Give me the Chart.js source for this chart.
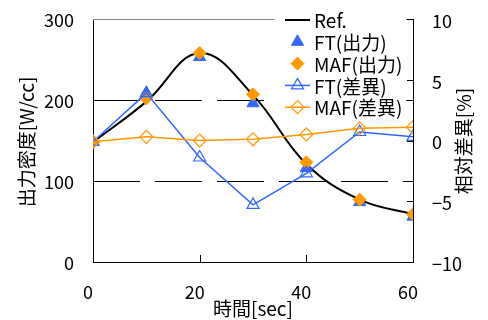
<!DOCTYPE html>
<html><head><meta charset="utf-8">
<script src="https://cdn.jsdelivr.net/npm/chart.js@4/dist/chart.umd.min.js"></script>
<style>html,body{margin:0;padding:0;background:#fff}#wrap{width:488px;height:320px}</style>
</head><body><div id="wrap"><canvas id="c" width="488" height="320"></canvas></div>
<script>
// ---- data ----
const times = [0, 10, 20, 30, 40, 50, 60];
const refValues = [148, 198, 258, 206, 121, 77, 59];
const ftPower = [148, 208, 253, 196, 116, 74, 56];
const mafPower = [148, 202, 258, 207, 123, 77, 59];
const ftDiff = [-0.1, 3.9, -1.4, -5.3, -2.7, 0.7, 0.3];
const mafDiff = [-0.1, 0.3, 0.0, 0.1, 0.5, 1.0, 1.1];
const xTicks = [0, 20, 40, 60];
const leftTicks = [0, 100, 200, 300];
const rightTicks = [-10, -5, 0, 5, 10];
const seriesLabels = ['Ref.', 'FT(出力)', 'MAF(出力)', 'FT(差異)', 'MAF(差異)'];
const xTitle = '時間[sec]';
const leftTitle = '出力密度[W/cc]';
const rightTitle = '相対差異[%]';

// ---- style ----
const BLUE = '#3366FF';
const ORANGE = '#FF9900';
const FONT = "'Noto Sans CJK JP', sans-serif";
const TITLE_FONT = "19px 'Noto Sans CJK JP', sans-serif";
const LEG = {x: 275, y: 0, w: 131, h: 118, lineX1: 285, lineX2: 310, symX: 297.5, textX: 314, rowY0: 20, rowStep: 21.8};

const pts = (ys) => times.map((t, i) => ({x: t, y: ys[i]}));
const noPad = (s) => { s.paddingTop = 0; s.paddingBottom = 0; s.paddingLeft = 0; s.paddingRight = 0; };

const decor = {
  id: 'decor',
  beforeDatasetsDraw(chart) {
    const {ctx, chartArea: a, scales} = chart;
    ctx.save();
    ctx.strokeStyle = '#000'; ctx.lineWidth = 1; ctx.setLineDash([47, 15]);
    leftTicks.filter(v => v > 0 && v < 300).forEach(v => {
      const y = Math.round(scales.y.getPixelForValue(v)) + 0.5;
      ctx.beginPath(); ctx.moveTo(a.left, y); ctx.lineTo(a.right, y); ctx.stroke();
    });
    ctx.setLineDash([]);
    ctx.strokeStyle = '#8a8a8a';
    ctx.beginPath(); ctx.moveTo(a.left, a.top + 0.5); ctx.lineTo(a.right, a.top + 0.5); ctx.stroke();
    ctx.strokeStyle = '#000';
    leftTicks.filter(v => v > 0 && v < 300).forEach(v => {
      const y = Math.round(scales.y.getPixelForValue(v)) + 0.5;
      ctx.beginPath(); ctx.moveTo(a.left, y); ctx.lineTo(a.left + 7, y); ctx.stroke();
    });
    xTicks.forEach(v => {
      const x = Math.round(scales.x.getPixelForValue(v)) + 0.5;
      ctx.beginPath(); ctx.moveTo(x, a.bottom); ctx.lineTo(x, a.bottom - 7); ctx.stroke();
    });
    rightTicks.forEach(v => {
      const y = Math.round(scales.y2.getPixelForValue(v)) + 0.5;
      ctx.beginPath(); ctx.moveTo(a.right, y); ctx.lineTo(a.right - 6, y); ctx.stroke();
    });
    ctx.restore();
  },
  afterDraw(chart) {
    const {ctx} = chart;
    ctx.save();
    ctx.fillStyle = '#000'; ctx.font = TITLE_FONT; ctx.textAlign = 'center'; ctx.textBaseline = 'middle';
    ctx.fillText(xTitle, 253, 309);
    ctx.save(); ctx.translate(27, 142); ctx.rotate(-Math.PI / 2); ctx.fillText(leftTitle, 0, 0); ctx.restore();
    ctx.save(); ctx.translate(464, 141); ctx.rotate(-Math.PI / 2); ctx.fillText(rightTitle, 0, 0); ctx.restore();
    ctx.fillStyle = '#fff';
    ctx.fillRect(LEG.x, LEG.y, LEG.w, LEG.h);
    chart.data.datasets.forEach((ds, i) => {
      const y = LEG.rowY0 + i * LEG.rowStep;
      if (ds.showLine !== false) {
        ctx.strokeStyle = ds.borderColor; ctx.lineWidth = ds.borderWidth;
        ctx.beginPath(); ctx.moveTo(LEG.lineX1, y); ctx.lineTo(LEG.lineX2, y); ctx.stroke();
      }
      if (ds.pointRadius > 0) {
        ctx.fillStyle = ds.pointBackgroundColor || ds.backgroundColor;
        ctx.strokeStyle = ds.pointBorderColor || ds.borderColor;
        ctx.lineWidth = ds.pointBorderWidth || 1;
        Chart.helpers.drawPoint(ctx, {pointStyle: ds.pointStyle, radius: ds.pointRadius, borderWidth: ds.pointBorderWidth || 1, rotation: 0}, LEG.symX, y);
      }
      ctx.fillStyle = '#000'; ctx.font = TITLE_FONT; ctx.textAlign = 'left'; ctx.textBaseline = 'middle';
      ctx.fillText(ds.label, LEG.textX, y + 1);
    });
    ctx.restore();
  }
};

const tickFont = {family: FONT, size: 18};
new Chart(document.getElementById('c'), {
  type: 'line',
  data: {datasets: [
    {label: seriesLabels[0], data: pts(refValues), yAxisID: 'y', borderColor: '#000', borderWidth: 2, pointRadius: 0, tension: 0.4, order: 5},
    {label: seriesLabels[1], data: pts(ftPower), yAxisID: 'y', showLine: false, pointStyle: 'triangle', pointRadius: 7, backgroundColor: BLUE, borderColor: BLUE, pointBorderWidth: 1, order: 4},
    {label: seriesLabels[2], data: pts(mafPower), yAxisID: 'y', showLine: false, pointStyle: 'rectRot', pointRadius: 6.5, backgroundColor: ORANGE, borderColor: ORANGE, pointBorderWidth: 1, order: 3},
    {label: seriesLabels[3], data: pts(ftDiff), yAxisID: 'y2', borderColor: BLUE, borderWidth: 1.5, tension: 0, pointStyle: 'triangle', pointRadius: 7, pointBackgroundColor: 'rgba(255,255,255,0)', pointBorderColor: BLUE, pointBorderWidth: 1.2, order: 2},
    {label: seriesLabels[4], data: pts(mafDiff), yAxisID: 'y2', borderColor: ORANGE, borderWidth: 1.5, tension: 0, pointStyle: 'rectRot', pointRadius: 6.5, pointBackgroundColor: 'rgba(255,255,255,0)', pointBorderColor: ORANGE, pointBorderWidth: 1.2, order: 1}
  ]},
  options: {
    responsive: false, animation: false, devicePixelRatio: 1,
    layout: {padding: {top: 19, left: 0, right: 0, bottom: 0}},
    plugins: {legend: {display: false}, tooltip: {enabled: false}},
    scales: {
      x: {type: 'linear', position: 'bottom', min: 0, max: 60,
        afterFit(s) { s.height = 58; noPad(s); },
        afterBuildTicks(s) { s.ticks = xTicks.map(v => ({value: v})); },
        ticks: {color: '#000', font: tickFont, padding: 19, labelOffset: -5, maxRotation: 0},
        grid: {display: true, drawOnChartArea: false, drawTicks: false},
        border: {color: '#000', width: 1}},
      y: {type: 'linear', position: 'left', min: 0, max: 300,
        afterFit(s) { s.width = 93; noPad(s); },
        afterBuildTicks(s) { s.ticks = leftTicks.map(v => ({value: v})); },
        ticks: {color: '#000', font: tickFont, padding: 19, labelOffset: 1},
        grid: {display: true, drawOnChartArea: false, drawTicks: false},
        border: {color: '#000', width: 1}},
      y2: {type: 'linear', position: 'right', min: -10, max: 10,
        afterFit(s) { s.width = 75; noPad(s); },
        afterBuildTicks(s) { s.ticks = rightTicks.map(v => ({value: v})); },
        ticks: {color: '#000', font: tickFont, padding: 19, labelOffset: 2,
          callback: v => String(v).replace('-', '\u2212')},
        grid: {display: true, drawOnChartArea: false, drawTicks: false},
        border: {color: '#000', width: 1}}
    }
  },
  plugins: [decor]
});
</script></body></html>
